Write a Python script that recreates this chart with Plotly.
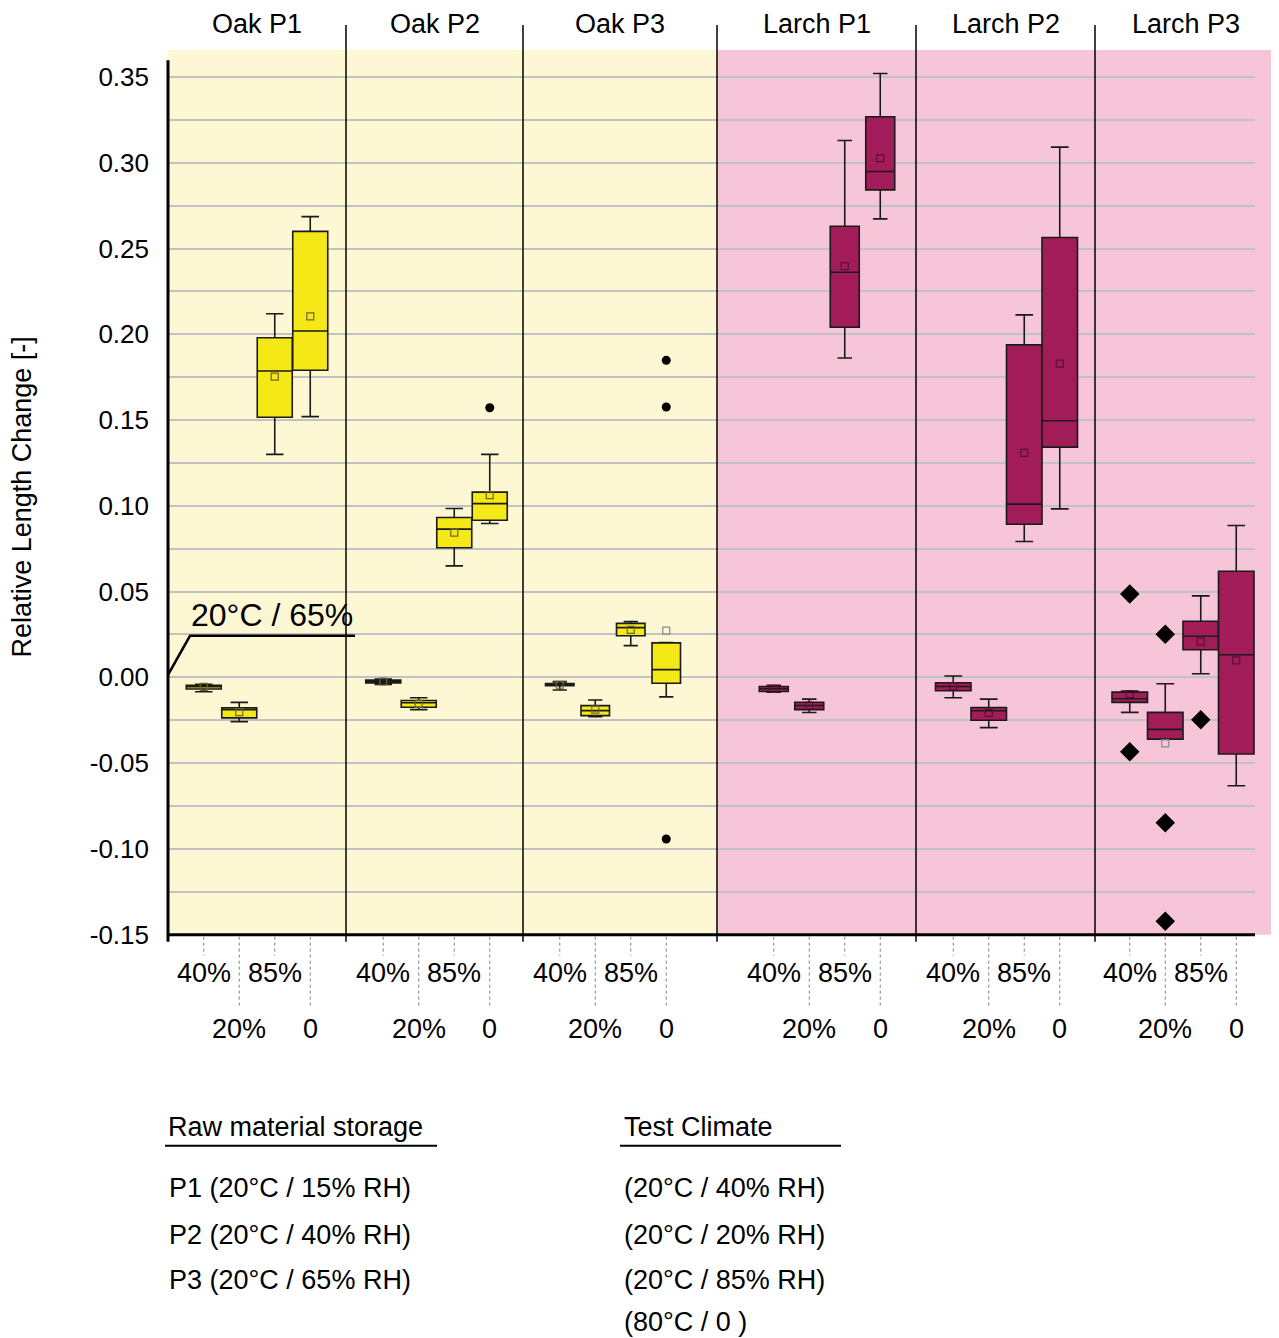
import plotly.graph_objects as go

# ---------------- data ----------------
GROUPS = ["Oak P1", "Oak P2", "Oak P3", "Larch P1", "Larch P2", "Larch P3"]
SPECIES = ["Oak", "Oak", "Oak", "Larch", "Larch", "Larch"]
CLIMATES = ["40%", "20%", "85%", "0"]

# per group: [40%, 20%, 85%, 0]
LOWER = [
    [-0.0084, -0.0258, 0.130, 0.152],
    [-0.0041, -0.0188, 0.065, 0.0897],
    [-0.0074, -0.0230, 0.0185, -0.0114],
    [-0.0086, -0.0205, 0.1862, 0.2673],
    [-0.0119, -0.0293, 0.0792, 0.0982],
    [-0.0204, -0.0360, 0.0021, -0.0632],
]
Q1 = [
    [-0.0068, -0.0236, 0.1516, 0.179],
    [-0.0033, -0.0174, 0.0756, 0.0916],
    [-0.0049, -0.0223, 0.0243, -0.0034],
    [-0.0082, -0.0188, 0.2041, 0.2842],
    [-0.0078, -0.0250, 0.0893, 0.1342],
    [-0.0146, -0.0360, 0.0161, -0.0447],
]
MEDIAN = [
    [-0.0055, -0.0189, 0.1786, 0.2019],
    [-0.0025, -0.0148, 0.0864, 0.1013],
    [-0.0042, -0.0194, 0.0290, 0.0045],
    [-0.0066, -0.0164, 0.2362, 0.2949],
    [-0.0053, -0.0195, 0.1010, 0.1496],
    [-0.0125, -0.0303, 0.0240, 0.0132],
]
Q3 = [
    [-0.0047, -0.0178, 0.198, 0.260],
    [-0.0015, -0.0135, 0.0932, 0.108],
    [-0.0036, -0.0165, 0.0315, 0.0201],
    [-0.0053, -0.0145, 0.263, 0.3268],
    [-0.0031, -0.0176, 0.1938, 0.2564],
    [-0.0086, -0.0204, 0.0327, 0.0619],
]
UPPER = [
    [-0.0041, -0.0146, 0.212, 0.2686],
    [-0.0010, -0.0119, 0.0984, 0.130],
    [-0.0025, -0.0132, 0.0326, 0.0203],
    [-0.0047, -0.0127, 0.313, 0.352],
    [0.0008, -0.0127, 0.2113, 0.3091],
    [-0.0080, -0.0037, 0.0475, 0.0885],
]
MEAN = [
    [-0.0056, -0.0203, 0.1753, 0.2105],
    [-0.0024, -0.0154, 0.0844, 0.1062],
    [-0.0043, -0.0188, 0.0277, 0.0272],
    [-0.0067, -0.0164, 0.2397, 0.3027],
    [-0.0053, -0.0207, 0.1309, 0.1829],
    [-0.0097, -0.0385, 0.0208, 0.0099],
]
# outliers: (group index, climate index, value)
OUTLIER_GROUP = [1, 2, 2, 2, 5, 5, 5, 5, 5, 5]
OUTLIER_CLIM = [3, 3, 3, 3, 0, 0, 1, 1, 1, 2]
OUTLIER_VAL = [0.1572, 0.1848, 0.1576, -0.0942, 0.0486, -0.0434, 0.0251, -0.0848, -0.1422, -0.0247]

Y_TICKS = [-0.15, -0.10, -0.05, 0.00, 0.05, 0.10, 0.15, 0.20, 0.25, 0.30, 0.35]
Y_TICK_TEXT = ["-0.15", "-0.10", "-0.05", "0.00", "0.05", "0.10", "0.15", "0.20", "0.25", "0.30", "0.35"]

STORAGE_TITLE = "Raw material storage"
STORAGE_ROWS = ["P1 (20°C / 15% RH)", "P2 (20°C / 40% RH)", "P3 (20°C / 65% RH)"]
CLIMATE_TITLE = "Test Climate"
CLIMATE_ROWS = ["(20°C / 40% RH)", "(20°C / 20% RH)", "(20°C / 85% RH)", "(80°C / 0 )"]

# ---------------- layout / style ----------------
BODY_MARGIN = 8                      # default browser body margin
W, H = 1263, 1338                    # figure size
V_SQUEEZE = 1338 / 1354              # vertical squeeze applied when the page is photographed
PLOT_L, PLOT_R = 168, 1255          # target px
PLOT_T, PLOT_B = 50, 934            # target px
PX_PER_UNIT = 1714.3                # target px per unit
Y_MIN = -0.15
Y_MAX = Y_MIN + (PLOT_B - PLOT_T) / PX_PER_UNIT
X_RANGE = [0, PLOT_R - PLOT_L]
PANEL_EDGES = [0, 178, 355, 549, 748, 927, 1108]    # in x units
GROUP_CENTER = [89, 268.5, 445, 659, 838.5, 1015]
SPACING = 35.5
BOX_WIDTH = [35, 35, 28.5, 29, 35.5, 35.5]
OFFSETS = [-1.5, -0.5, 0.5, 1.5]

FILL = {"Oak": "#f5e817", "Larch": "#a21c5a"}
BG = {"Oak": "#fdf7d3", "Larch": "#f7c5d8"}
MEAN_COL = {"Oak": "#6d6632", "Larch": "#5a0f32"}
OUT_SYM = {"Oak": "circle", "Larch": "diamond"}
OUT_SIZE = {"Oak": 9, "Larch": 15}
FONT = "Liberation Sans, Arial, sans-serif"
FS = 27


def py(p):
    return 1 - (p / V_SQUEEZE - BODY_MARGIN) / H


def pxp(p):
    return (p - BODY_MARGIN) / W


def xpos(g, c):
    return GROUP_CENTER[g] + OFFSETS[c] * SPACING


fig = go.Figure()

for g, grp in enumerate(GROUPS):
    sp = SPECIES[g]
    for c in range(4):
        fig.add_trace(go.Box(
            x=[xpos(g, c)],
            q1=[Q1[g][c]], median=[MEDIAN[g][c]], q3=[Q3[g][c]],
            lowerfence=[LOWER[g][c]], upperfence=[UPPER[g][c]],
            width=BOX_WIDTH[g], whiskerwidth=0.5,
            fillcolor=FILL[sp], line=dict(color="#1a1a1a", width=1.6),
            boxpoints=False, showlegend=False, name=f"{grp} {CLIMATES[c]}",
        ))
    # means
    mx, my, mc = [], [], []
    for c in range(4):
        mx.append(xpos(g, c))
        my.append(MEAN[g][c])
        inside = Q1[g][c] <= MEAN[g][c] <= Q3[g][c]
        mc.append(MEAN_COL[sp] if inside else "#8a8a8a")
    fig.add_trace(go.Scatter(
        x=mx, y=my, mode="markers", showlegend=False,
        marker=dict(symbol="square-open", size=7, color=mc, line=dict(width=1.2)),
    ))

# outliers
for sp in ["Oak", "Larch"]:
    ox, oy = [], []
    for g, c, v in zip(OUTLIER_GROUP, OUTLIER_CLIM, OUTLIER_VAL):
        if SPECIES[g] == sp:
            ox.append(xpos(g, c))
            oy.append(v)
    fig.add_trace(go.Scatter(
        x=ox, y=oy, mode="markers", showlegend=False,
        marker=dict(symbol=OUT_SYM[sp], size=OUT_SIZE[sp], color="black"),
    ))

shapes = []
# species backgrounds
oak_end = PANEL_EDGES[3]
shapes.append(dict(type="rect", xref="x", yref="y domain", x0=0, x1=oak_end, y0=0, y1=1,
                   fillcolor=BG["Oak"], line=dict(width=0), layer="below"))
shapes.append(dict(type="rect", xref="x", yref="y domain", x0=oak_end, x1=PANEL_EDGES[-1], y0=0, y1=1,
                   fillcolor=BG["Larch"], line=dict(width=0), layer="below"))
# pink extension past plot area
shapes.append(dict(type="rect", xref="paper", yref="paper",
                   x0=pxp(PLOT_R), x1=pxp(PLOT_L + PANEL_EDGES[-1]), y0=py(PLOT_B), y1=py(PLOT_T),
                   fillcolor=BG["Larch"], line=dict(width=0), layer="below"))
# panel separators
for e in PANEL_EDGES[1:-1]:
    shapes.append(dict(type="line", xref="paper", yref="paper",
                       x0=pxp(PLOT_L + e), x1=pxp(PLOT_L + e), y0=py(25), y1=py(941),
                       line=dict(color="black", width=1.5)))
# axes lines
shapes.append(dict(type="line", xref="paper", yref="paper",
                   x0=pxp(PLOT_L), x1=pxp(PLOT_L), y0=py(60), y1=py(941),
                   line=dict(color="black", width=3)))
shapes.append(dict(type="line", xref="paper", yref="paper",
                   x0=pxp(PLOT_L), x1=pxp(PLOT_R), y0=py(PLOT_B), y1=py(PLOT_B),
                   line=dict(color="black", width=3)))
# dotted leaders below axis
for g in range(6):
    for c in range(4):
        xx = pxp(PLOT_L + xpos(g, c))
        yend = 955 if c in (0, 2) else 1008
        shapes.append(dict(type="line", xref="paper", yref="paper",
                           x0=xx, x1=xx, y0=py(PLOT_B + 2), y1=py(yend),
                           line=dict(color="#808080", width=1, dash="dot")))
# "20°C / 65%" callout
shapes.append(dict(type="path", xref="x", yref="y",
                   path="M 0,0.0015 L 22,0.0242 L 187,0.0242",
                   line=dict(color="black", width=2.5)))
# legend underlines
shapes.append(dict(type="line", xref="paper", yref="paper", x0=pxp(165), x1=pxp(437),
                   y0=py(1145), y1=py(1145), line=dict(color="black", width=2)))
shapes.append(dict(type="line", xref="paper", yref="paper", x0=pxp(620), x1=pxp(841),
                   y0=py(1145), y1=py(1145), line=dict(color="black", width=2)))

ann = []
# headers
for g, grp in enumerate(GROUPS):
    cx = PLOT_L + (PANEL_EDGES[g] + PANEL_EDGES[g + 1]) / 2
    ann.append(dict(text=grp, xref="paper", yref="paper", x=pxp(cx), y=py(24),
                    xanchor="center", yanchor="middle", showarrow=False,
                    font=dict(family=FONT, size=FS, color="black")))
# climate labels
for g in range(6):
    for c in range(4):
        yy = 972 if c in (0, 2) else 1028
        ann.append(dict(text=CLIMATES[c], xref="paper", yref="paper",
                        x=pxp(PLOT_L + xpos(g, c)), y=py(yy),
                        xanchor="center", yanchor="middle", showarrow=False,
                        font=dict(family=FONT, size=FS, color="black")))
# y title
ann.append(dict(text="Relative Length Change [-]", xref="paper", yref="paper",
                x=pxp(22), y=py(497), textangle=-90, xanchor="center", yanchor="middle",
                showarrow=False, font=dict(family=FONT, size=FS, color="black")))
# callout text
ann.append(dict(text="20°C / 65%", xref="x", yref="y", x=104, y=0.0365,
                xanchor="center", yanchor="middle", showarrow=False,
                font=dict(family=FONT, size=32, color="black")))
# bottom legend
ann.append(dict(text=STORAGE_TITLE, xref="paper", yref="paper", x=pxp(166), y=py(1126),
                xanchor="left", yanchor="middle", showarrow=False,
                font=dict(family=FONT, size=FS, color="black")))
ann.append(dict(text=CLIMATE_TITLE, xref="paper", yref="paper", x=pxp(622), y=py(1126),
                xanchor="left", yanchor="middle", showarrow=False,
                font=dict(family=FONT, size=FS, color="black")))
ROW_Y = [1187, 1234, 1279, 1321]
for i, t in enumerate(STORAGE_ROWS):
    ann.append(dict(text=t, xref="paper", yref="paper", x=pxp(167), y=py(ROW_Y[i]),
                    xanchor="left", yanchor="middle", showarrow=False,
                    font=dict(family=FONT, size=FS, color="black")))
for i, t in enumerate(CLIMATE_ROWS):
    ann.append(dict(text=t, xref="paper", yref="paper", x=pxp(622), y=py(ROW_Y[i]),
                    xanchor="left", yanchor="middle", showarrow=False,
                    font=dict(family=FONT, size=FS, color="black")))

fig.update_layout(
    width=W, height=H,
    margin=dict(l=0, r=0, t=0, b=0),
    paper_bgcolor="white", plot_bgcolor="rgba(0,0,0,0)",
    showlegend=False,
    shapes=shapes, annotations=ann,
    xaxis=dict(domain=[pxp(PLOT_L), pxp(PLOT_R)], range=X_RANGE, showgrid=False,
               zeroline=False, showticklabels=False, ticks="", showline=False, fixedrange=True),
    yaxis=dict(domain=[py(PLOT_B), py(PLOT_T)], range=[Y_MIN, Y_MAX],
               tickvals=Y_TICKS, ticktext=Y_TICK_TEXT, ticks="", ticklabelstandoff=18,
               tickfont=dict(family=FONT, size=26, color="black"),
               showgrid=True, gridcolor="#c2c2c2", gridwidth=2,
               minor=dict(dtick=0.025, tick0=-0.15, showgrid=True, gridcolor="#c2c2c2", gridwidth=2),
               zeroline=False, showline=False, fixedrange=True),
)

fig.write_html("out.html", config={"displayModeBar": False})
